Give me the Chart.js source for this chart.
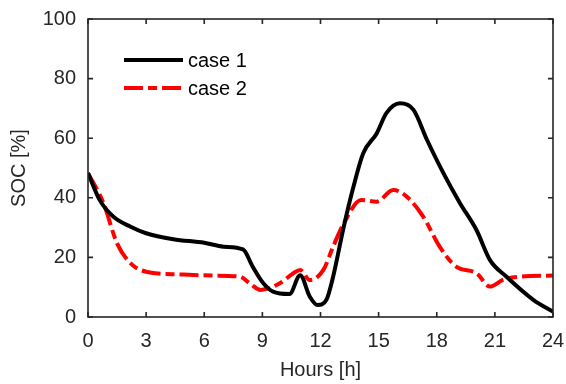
<!DOCTYPE html>
<html>
<head>
<meta charset="utf-8">
<script src="https://cdn.jsdelivr.net/npm/chart.js@4/dist/chart.umd.min.js"></script>
<style>
  html, body { margin: 0; padding: 0; background: #fff; }
  #wrap { width: 566px; height: 384px; }
</style>
</head>
<body>
<div id="wrap"><canvas id="socChart" width="566" height="384"></canvas></div>
<script>
// ========================================
// DATA
// ========================================
const xTicks = [0, 3, 6, 9, 12, 15, 18, 21, 24];
const yTicks = [0, 20, 40, 60, 80, 100];

const case1Hours = [0, 0.6, 1.3, 2.2, 3.0, 4.4, 6.0, 7.0, 8.0, 8.5, 9.05, 9.55, 10.4, 10.95, 11.45, 11.85, 12.3, 12.65, 13.2, 13.7, 14.2, 14.9, 15.4, 16.1, 16.8, 17.5, 18.35, 19.2, 20.05, 20.75, 21.6, 23.0, 24];
const case1Soc   = [48.3, 39.3, 33.7, 30.3, 28.1, 26.1, 24.9, 23.6, 22.7, 16.9, 11.3, 8.5, 7.7, 14.0, 6.8, 4.0, 5.7, 13.5, 30.3, 43.7, 54.9, 61.6, 68.4, 71.7, 69.5, 59.4, 48.2, 38.2, 29.2, 19.1, 13.5, 5.7, 1.8];

const case2Hours = [0, 0.8, 1.5, 2.2, 3.0, 4.75, 6.5, 7.85, 8.35, 8.9, 9.9, 10.6, 10.95, 11.45, 12.15, 12.65, 13.2, 14.1, 14.9, 15.75, 16.45, 17.3, 18.15, 19.0, 20.05, 20.75, 21.45, 22.3, 24];
const case2Soc   = [48.3, 38.2, 24.7, 18.0, 15.2, 14.3, 13.9, 13.5, 11.3, 9.1, 11.3, 14.7, 15.8, 12.4, 15.8, 23.6, 31.4, 39.3, 38.7, 42.6, 40.4, 33.7, 23.6, 16.9, 14.7, 10.2, 12.6, 13.5, 13.9];

const AXIS_COLOR = '#262626';
const FONT = 'Liberation Sans, Arial, Helvetica, sans-serif';
const RED_DASH = [19, 5, 9, 5];

function toPoints(xs, ys) {
    return xs.map((x, i) => ({ x: x, y: ys[i] }));
}

// MATLAB-style box with inward ticks on all four sides
const boxPlugin = {
    id: 'boxPlugin',
    afterDatasetsDraw(chart) {
        const { ctx, chartArea: a, scales } = chart;
        ctx.save();
        ctx.strokeStyle = AXIS_COLOR;
        ctx.lineWidth = 1.6;
        ctx.strokeRect(a.left, a.top, a.right - a.left, a.bottom - a.top);
        const len = 5;
        ctx.beginPath();
        xTicks.forEach(v => {
            const px = scales.x.getPixelForValue(v);
            ctx.moveTo(px, a.bottom); ctx.lineTo(px, a.bottom - len);
            ctx.moveTo(px, a.top); ctx.lineTo(px, a.top + len);
        });
        yTicks.forEach(v => {
            const py = scales.y.getPixelForValue(v);
            ctx.moveTo(a.left, py); ctx.lineTo(a.left + len, py);
            ctx.moveTo(a.right, py); ctx.lineTo(a.right - len, py);
        });
        ctx.stroke();

        // legend inside the axes, top-left
        const items = [
            { label: 'case 1', color: '#000', dash: [], y: 60 },
            { label: 'case 2', color: '#ff0000', dash: RED_DASH, y: 88 }
        ];
        ctx.font = '20px ' + FONT;
        ctx.textBaseline = 'middle';
        items.forEach(it => {
            ctx.beginPath();
            ctx.setLineDash(it.dash);
            ctx.strokeStyle = it.color;
            ctx.lineWidth = 4;
            ctx.moveTo(124, it.y);
            ctx.lineTo(183, it.y);
            ctx.stroke();
            ctx.setLineDash([]);
            ctx.fillStyle = '#000';
            ctx.fillText(it.label, 188, it.y + 1);
        });
        ctx.restore();
    }
};

new Chart(document.getElementById('socChart'), {
    type: 'line',
    data: {
        datasets: [
            {
                label: 'case 1',
                data: toPoints(case1Hours, case1Soc),
                borderColor: '#000000',
                borderWidth: 4,
                pointRadius: 0,
                cubicInterpolationMode: 'monotone',
                fill: false
            },
            {
                label: 'case 2',
                data: toPoints(case2Hours, case2Soc),
                borderColor: '#ff0000',
                borderWidth: 4,
                borderDash: RED_DASH,
                pointRadius: 0,
                cubicInterpolationMode: 'monotone',
                fill: false
            }
        ]
    },
    options: {
        responsive: false,
        animation: false,
        devicePixelRatio: 1,
        layout: { padding: { top: 19, right: 13, left: 0, bottom: 0 } },
        plugins: {
            legend: { display: false },
            tooltip: { enabled: false }
        },
        scales: {
            x: {
                type: 'linear',
                min: 0,
                max: 24,
                afterBuildTicks: s => { s.ticks = xTicks.map(v => ({ value: v })); },
                afterFit: s => {
                    s.height = 67;
                    s.paddingLeft = 0;
                    s.paddingRight = 0;
                },
                grid: { display: false, drawTicks: false },
                border: { display: false },
                ticks: {
                    color: '#262626',
                    font: { family: FONT, size: 20 },
                    padding: 12,
                    maxRotation: 0
                },
                title: {
                    display: true,
                    text: 'Hours [h]',
                    color: '#262626',
                    font: { family: FONT, size: 20 },
                    padding: { top: 0, bottom: 2 }
                }
            },
            y: {
                min: 0,
                max: 100,
                afterBuildTicks: s => { s.ticks = yTicks.map(v => ({ value: v })); },
                afterFit: s => {
                    s.width = 88;
                    s.paddingTop = 0;
                    s.paddingBottom = 0;
                },
                grid: { display: false, drawTicks: false },
                border: { display: false },
                ticks: {
                    color: '#262626',
                    font: { family: FONT, size: 20 },
                    padding: 12
                },
                title: {
                    display: true,
                    text: 'SOC [%]',
                    color: '#262626',
                    font: { family: FONT, size: 20 },
                    padding: { top: 7, bottom: 0 }
                }
            }
        }
    },
    plugins: [boxPlugin]
});
</script>
</body>
</html>
